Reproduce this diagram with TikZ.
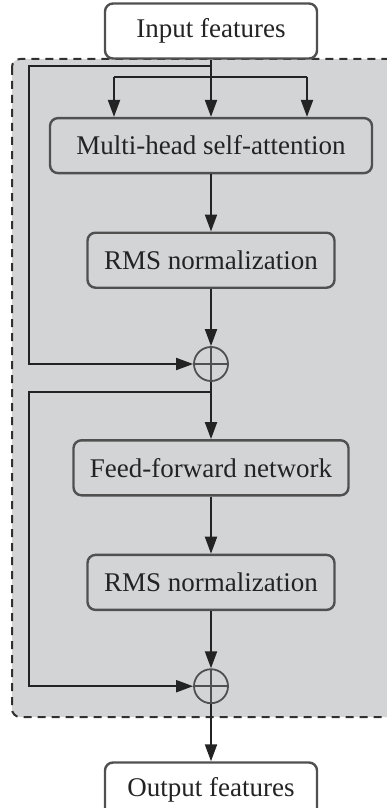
\documentclass[tikz,border=0pt]{standalone}
\usepackage{fontspec}
\setmainfont{Liberation Serif}
\usetikzlibrary{arrows.meta, positioning, calc}
\definecolor{panelgray}{RGB}{211,212,214}
\definecolor{edgegray}{RGB}{80,80,80}
\definecolor{inkgray}{RGB}{35,35,35}

\begin{document}
\begin{tikzpicture}[node distance=28.6pt,
  block/.style={draw=edgegray, line width=1.2pt, rounded corners=4pt, minimum height=27.5pt,
                inner sep=0pt, align=center, text=inkgray, font=\fontsize{13.5}{16}\selectfont},
  io/.style={block, fill=white, minimum width=106pt},
  sumnode/.style={circle, draw=edgegray, line width=0.9pt, minimum size=17pt, inner sep=0pt,
                  path picture={\draw[edgegray, line width=0.9pt]
                    (path picture bounding box.west) -- (path picture bounding box.east)
                    (path picture bounding box.north) -- (path picture bounding box.south);}},
  flow/.style={draw=inkgray, line width=1pt, -{Triangle[length=8.5pt, width=6pt]}},
  link/.style={draw=inkgray, line width=1pt},
]
  \useasboundingbox (0,0) rectangle (193pt,-404pt);

  % dashed decoder block
  \draw[edgegray!60!black, line width=1pt, dash pattern=on 4pt off 3pt, fill=panelgray, rounded corners=4pt]
    (6pt,-29.5pt) rectangle (210pt,-358.5pt);

  \node[io] (inp) at (105.5pt,-15.5pt) {Input features};
  \node[block, minimum width=161pt, below=of inp]      (mhsa) {Multi-head self-attention};
  \node[block, minimum width=123.5pt, below=of mhsa]   (rms1) {RMS normalization};
  \node[sumnode, below=of rms1]                        (add1) {};
  \node[block, minimum width=137.5pt, below=of add1]   (ffn)  {Feed-forward network};
  \node[block, minimum width=123.5pt, below=of ffn]    (rms2) {RMS normalization};
  \node[sumnode, below=of rms2]                        (add2) {};
  \node[io, below=of add2]                             (out)  {Output features};

  % q, k, v taps
  \coordinate (rail)  at (14.5pt,0);
  \coordinate (tapL)  at ($(mhsa.north)+(-48.5pt,20pt)$);
  \coordinate (tapR)  at ($(mhsa.north)+(48pt,20pt)$);
  \coordinate (headL) at ($(mhsa.north)+(-48.5pt,0)$);
  \coordinate (headR) at ($(mhsa.north)+(48pt,0)$);
  \draw[link] (tapL) -- (tapR);
  \draw[flow] (tapL) -- (headL);
  \draw[flow] (tapR) -- (headR);
  \draw[flow] (inp.south) -- (mhsa.north);

  % main path
  \draw[flow] (mhsa) -- (rms1);
  \draw[flow] (rms1) -- (add1);
  \draw[flow] (add1) -- (ffn);
  \draw[flow] (ffn)  -- (rms2);
  \draw[flow] (rms2) -- (add2);
  \draw[flow] (add2) -- (out);

  % residual links
  \coordinate (skipA) at ($(inp.south)+(0,-3pt)$);
  \coordinate (skipB) at ($(add1.south)+(0,-5pt)$);
  \draw[flow] (skipA) -- (skipA -| rail) |- (add1.west);
  \draw[flow] (skipB) -- (skipB -| rail) |- (add2.west);
\end{tikzpicture}
\end{document}
